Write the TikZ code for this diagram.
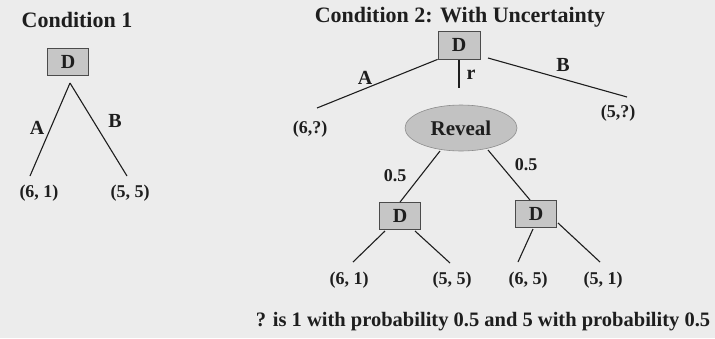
\documentclass[tikz,border=0pt]{standalone}
\usepackage{fontspec}
\setmainfont{Liberation Serif}
\usetikzlibrary{shapes.geometric}
\definecolor{bgc}{HTML}{ECECEC}
\definecolor{ink}{HTML}{1E1E1E}
\definecolor{boxfill}{HTML}{C6C6C6}
\definecolor{ellfill}{HTML}{C2C2C2}
\tikzset{
  every node/.style={font=\fontsize{18}{21}\selectfont\bfseries, text=ink, inner sep=0pt},
  dbox/.style={draw=ink!80, fill=boxfill, line width=0.8pt, minimum width=41pt, minimum height=27pt, font=\fontsize{20}{23}\selectfont\bfseries},
  chance/.style={ellipse, draw=black!45, fill=ellfill, line width=0.6pt, minimum width=112pt, minimum height=46pt, font=\fontsize{21}{24}\selectfont\bfseries},
  conn/.style={draw=ink, line width=1.1pt},
  lbl/.style={font=\fontsize{20}{23}\selectfont\bfseries},
  num/.style={font=\fontsize{18}{21}\selectfont\bfseries},
  ttl/.style={font=\fontsize{22}{25}\selectfont\bfseries},
  notestyle/.style={font=\fontsize{20.5}{24}\selectfont\bfseries},
}
\begin{document}
\begin{tikzpicture}[x=1pt,y=-1pt]
\fill[bgc] (0,0) rectangle (715,338);
\useasboundingbox (0,0) rectangle (715,338);
% Condition 1
\node[ttl] (t1) at (77,20) {Condition 1};
\node[dbox] (d1) at (68,62) {D};
\coordinate (apex1) at (70,83);
\node[num] (p11) at (39,193) {(6, 1)};
\node[num] (p12) at (130,193) {(5, 5)};
\coordinate (e11) at (30,176);
\coordinate (e12) at (127,176);
\draw[conn] (apex1) -- (e11);
\draw[conn] (apex1) -- (e12);
\node[lbl] (la1) at (37,128) {A};
\node[lbl] (lb1) at (115,121) {B};
% Condition 2
\node[ttl] (t2) at (460,17) {Condition 2: With Uncertainty};
\node[dbox, minimum width=42pt, minimum height=28pt] (d2) at (459,45) {D};
\coordinate (s2b) at (488,58);
\coordinate (e2a) at (317,108);
\coordinate (e2b) at (627,97);
\coordinate (s2r) at (459,60);
\coordinate (e2r) at (459,88);
\draw[conn] (d2.south west) -- (e2a);
\draw[conn] (s2b) -- (e2b);
\draw[conn] (s2r) -- (e2r);
\node[lbl] (la2) at (365,78) {A};
\node[lbl] (lb2) at (563,65) {B};
\node[lbl] (lr2) at (471,75) {r};
\node[num] (q1) at (310,129) {(6,?)};
\node[num] (q2) at (618,113) {(5,?)};
\node[chance] (rv) at (461,128) {Reveal};
% second level
\node[dbox] (d3) at (400,216) {D};
\node[dbox] (d4) at (536,214) {D};
\coordinate (s3) at (440,151);
\coordinate (s4) at (488,150);
\coordinate (n4) at (530,200);
\draw[conn] (s3) -- (d3.north);
\draw[conn] (s4) -- (n4);
\node[num] (h1) at (395,176) {0.5};
\node[num] (h2) at (526,165) {0.5};
% leaves
\node[num] (p31) at (349,280) {(6, 1)};
\node[num] (p32) at (452,280) {(5, 5)};
\node[num] (p41) at (528,280) {(6, 5)};
\node[num] (p42) at (603,280) {(5, 1)};
\coordinate (c31) at (385,231);
\coordinate (c32) at (415,231);
\coordinate (c41) at (533,229);
\coordinate (c42) at (558,223);
\coordinate (f31) at (353,262);
\coordinate (f32) at (450,263);
\coordinate (f41) at (518,262);
\coordinate (f42) at (600,262);
\draw[conn] (c31) -- (f31);
\draw[conn] (c32) -- (f32);
\draw[conn] (c41) -- (f41);
\draw[conn] (c42) -- (f42);
\node[notestyle] (note) at (483,322) {? is 1 with probability 0.5 and 5 with probability 0.5};
\end{tikzpicture}
\end{document}
